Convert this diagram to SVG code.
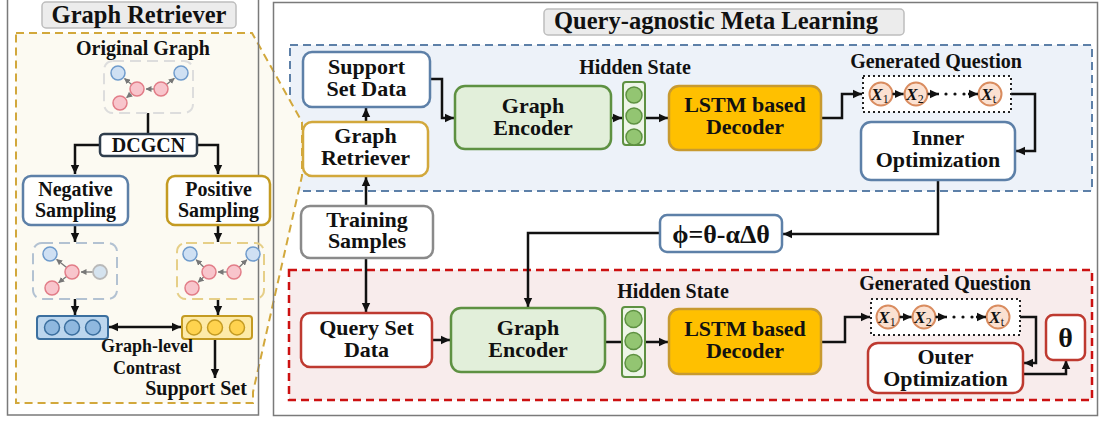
<svg xmlns="http://www.w3.org/2000/svg" width="1099" height="421" viewBox="0 0 1099 421">
  <defs>
    <marker id="arrow" markerUnits="userSpaceOnUse" markerWidth="10" markerHeight="10" refX="9" refY="5" orient="auto-start-reverse">
      <path d="M0,0.8 L9,5 L0,9.2 z" fill="#111"/>
    </marker>
    <marker id="arrowSmall" markerUnits="userSpaceOnUse" markerWidth="6" markerHeight="6" refX="5.5" refY="3" orient="auto">
      <path d="M0,0 L6,3 L0,6 z" fill="#777"/>
    </marker>
    <style>
      text { font-family: "Liberation Serif", "Times New Roman", serif; font-weight: bold; fill: #111; text-anchor: middle; }
      .panel { fill: none; stroke: #7a7a7a; stroke-width: 1.5; }
      .title { fill: #ececec; stroke: #bdbdbd; stroke-width: 1.5; }
      .t-title { font-size: 24.5px; }
      .t-node { font-size: 22px; }
      .t-left { font-size: 20px; }
      .t-label { font-size: 20px; }
      .box { fill: #fff; stroke-width: 2.5; }
      .blue { stroke: #5d80a8; }
      .gold { stroke: #d2a83c; }
      .gold2 { stroke: #c49b22; }
      .red { stroke: #be3a30; }
      .gray { stroke: #8a8a8a; }
      .dark { stroke: #2f3d4d; }
      .enc { fill: #e2efda; stroke: #5e9142; stroke-width: 2.5; }
      .dec { fill: #ffc000; stroke: #c89a30; stroke-width: 2.5; }
      .hid { fill: #eef5e8; stroke: #5e9142; stroke-width: 2; }
      .hidc { fill: #93c572; stroke: #5e9142; stroke-width: 1.5; }
      .tok { fill: #fbe1d1; stroke: #d98c5f; stroke-width: 2; }
      .qbox { fill: #fff; stroke: #222; stroke-width: 2; stroke-dasharray: 2 3; }
      .conn { fill: none; stroke: #111; stroke-width: 2.5; }
      .gconn { fill: none; stroke: #777; stroke-width: 1.3; marker-end: url(#arrowSmall); }
      .nb { fill: #cfe0f3; stroke: #6f9bcc; stroke-width: 1.5; }
      .np { fill: #f8c5cc; stroke: #e27d88; stroke-width: 1.5; }
      .ng { fill: #d5e3ef; stroke: #b9b9b9; stroke-width: 1.8; }
      .gbox { fill: none; stroke-width: 2; stroke-dasharray: 11 6; }
      .tx { font-size: 17.5px; font-style: italic; text-anchor: start; }
      .sub { font-size: 12px; font-style: normal; font-weight: normal; }
    </style>
  </defs>

  <!-- meta-learning regions -->
  <rect x="290" y="45" width="802" height="146" fill="#edf2f9" stroke="#5d80a8" stroke-width="2" stroke-dasharray="8 5"/>
  <rect x="289" y="270" width="803" height="130" fill="#f8ecec" stroke="#cc1111" stroke-width="2.5" stroke-dasharray="8 5"/>

  <!-- zoom-out of the graph retriever -->
  <polygon points="16,33 252,33 302,122 302,176 253,392 253,403 16,403" fill="#fcfaf2" stroke="#d2a83c" stroke-width="2" stroke-dasharray="8 5"/>

  <!-- panel frames -->
  <rect class="panel" x="7.5" y="-2" width="251" height="417"/>
  <rect class="panel" x="273.5" y="2.5" width="824" height="413"/>

  <!-- panel titles -->
  <g id="title-retriever">
    <rect class="title" x="42" y="2" width="194" height="26" rx="4"/>
    <text class="t-title" x="139" y="23">Graph Retriever</text>
  </g>
  <g id="title-meta">
    <rect class="title" x="544" y="9" width="360" height="26" rx="4"/>
    <text class="t-title" x="716" y="29">Query-agnostic Meta Learning</text>
  </g>

  <!-- connectors -->
  <g id="connectors">
    <!-- retriever panel -->
    <path class="conn" d="M148,113 V135"/>
    <path class="conn" d="M100,145 H75 V174" marker-end="url(#arrow)"/>
    <path class="conn" d="M197,145 H218 V174" marker-end="url(#arrow)"/>
    <path class="conn" d="M75,225 V242" marker-end="url(#arrow)"/>
    <path class="conn" d="M218,225 V242" marker-end="url(#arrow)"/>
    <path class="conn" d="M75,299 V315" marker-end="url(#arrow)"/>
    <path class="conn" d="M218,299 V315" marker-end="url(#arrow)"/>
    <path class="conn" d="M109,327 H181" marker-start="url(#arrow)" marker-end="url(#arrow)"/>
    <path class="conn" d="M215,339 V378" marker-end="url(#arrow)"/>
    <!-- support branch -->
    <path class="conn" d="M366,206 V177" marker-end="url(#arrow)"/>
    <path class="conn" d="M366,122 V108" marker-end="url(#arrow)"/>
    <path class="conn" d="M430,79 H442 V118 H454" marker-end="url(#arrow)"/>
    <path class="conn" d="M611,118 H622" marker-end="url(#arrow)"/>
    <path class="conn" d="M645,118 H668" marker-end="url(#arrow)"/>
    <path class="conn" d="M821,118 H842 V94 H862" marker-end="url(#arrow)"/>
    <path class="conn" d="M1011,94 H1035 V151 H1016" marker-end="url(#arrow)"/>
    <path class="conn" d="M938,180 V234 H783" marker-end="url(#arrow)"/>
    <path class="conn" d="M660,233 H528 V307" marker-end="url(#arrow)"/>
    <!-- query branch -->
    <path class="conn" d="M366,258 V312" marker-end="url(#arrow)"/>
    <path class="conn" d="M432,340 H450" marker-end="url(#arrow)"/>
    <path class="conn" d="M605,342 H622"/>
    <path class="conn" d="M645,342 H668" marker-end="url(#arrow)"/>
    <path class="conn" d="M821,342 H845 V317 H870" marker-end="url(#arrow)"/>
    <path class="conn" d="M1020,317 H1036 V363 H1024" marker-end="url(#arrow)"/>
    <path class="conn" d="M1023,374 H1066 V360" marker-end="url(#arrow)"/>
  </g>

  <!-- original graph -->
  <g id="original-graph">
    <text class="t-label" x="143" y="55">Original Graph</text>
    <rect class="gbox" x="104" y="61" width="89" height="52" rx="9" stroke="#dddddd"/>
    <path class="gconn" d="M154,89 H146"/>
    <path class="gconn" d="M131.6,84.5 L124.5,78.5"/>
    <path class="gconn" d="M166.5,84.6 L174.4,78.3"/>
    <path class="gconn" d="M131.6,93.5 L126.6,97.6"/>
    <circle class="nb" cx="118" cy="73" r="7"/>
    <circle class="nb" cx="181" cy="73" r="7"/>
    <circle class="np" cx="137" cy="89" r="7"/>
    <circle class="np" cx="161" cy="89" r="7"/>
    <circle class="np" cx="120" cy="103" r="7"/>
  </g>

  <g id="dcgcn">
    <rect class="box dark" x="100" y="134" width="97" height="22" rx="4"/>
    <text class="t-left" x="148.5" y="152">DCGCN</text>
  </g>

  <g id="negative-sampling">
    <rect class="box blue" x="23" y="176" width="105" height="49" rx="8"/>
    <text class="t-left" x="75.5" y="196">Negative<tspan x="75.5" dy="21">Sampling</tspan></text>
  </g>

  <g id="positive-sampling">
    <rect class="box gold2" x="167" y="176" width="103" height="49" rx="8"/>
    <text class="t-left" x="218.5" y="196">Positive<tspan x="218.5" dy="21">Sampling</tspan></text>
  </g>

  <g id="negative-graph">
    <rect class="gbox" x="33" y="243" width="84" height="56" rx="9" stroke="#b3c2d2"/>
    <path class="gconn" d="M93,272 H81"/>
    <path class="gconn" d="M66.6,267.6 L56.6,259.4"/>
    <path class="gconn" d="M66.5,276.4 L58.6,282.7"/>
    <circle class="nb" cx="50" cy="254" r="7"/>
    <circle class="np" cx="72" cy="272" r="7"/>
    <circle class="ng" cx="100" cy="272" r="7"/>
    <circle class="np" cx="52" cy="288" r="7"/>
  </g>

  <g id="positive-graph">
    <rect class="gbox" x="177" y="243" width="87" height="56" rx="9" stroke="#e6cf88"/>
    <path class="gconn" d="M227,272 H218"/>
    <path class="gconn" d="M203.9,267.2 L196.2,259.8"/>
    <path class="gconn" d="M239.1,267.2 L246.8,259.8"/>
    <path class="gconn" d="M203.9,276.8 L198.2,282.2"/>
    <circle class="nb" cx="190" cy="254" r="7"/>
    <circle class="nb" cx="253" cy="254" r="7"/>
    <circle class="np" cx="209" cy="272" r="7"/>
    <circle class="np" cx="234" cy="272" r="7"/>
    <circle class="np" cx="192" cy="288" r="7"/>
  </g>

  <g id="negative-embedding">
    <rect x="37" y="316" width="71" height="23" rx="3" fill="#bcd6ee" stroke="#3b6f9f" stroke-width="2"/>
    <circle cx="52" cy="327.5" r="7.5" fill="#8fb8df" stroke="#3b6f9f" stroke-width="1.5"/>
    <circle cx="72" cy="327.5" r="7.5" fill="#8fb8df" stroke="#3b6f9f" stroke-width="1.5"/>
    <circle cx="93" cy="327.5" r="7.5" fill="#8fb8df" stroke="#3b6f9f" stroke-width="1.5"/>
  </g>

  <g id="positive-embedding">
    <rect x="182" y="316" width="70" height="23" rx="3" fill="#fdeaa8" stroke="#c49b22" stroke-width="2"/>
    <circle cx="194" cy="327.5" r="7.5" fill="#ffd34f" stroke="#c49b22" stroke-width="1.5"/>
    <circle cx="215" cy="327.5" r="7.5" fill="#ffd34f" stroke="#c49b22" stroke-width="1.5"/>
    <circle cx="237" cy="327.5" r="7.5" fill="#ffd34f" stroke="#c49b22" stroke-width="1.5"/>
  </g>

  <g id="contrast-label">
    <text x="147" y="352" font-size="18">Graph-level<tspan x="147" dy="22">Contrast</tspan></text>
  </g>
  <text id="support-set-label" class="t-left" x="196" y="395">Support Set</text>

  <!-- support (inner) loop -->
  <g id="support-set-data">
    <rect class="box blue" x="303" y="52" width="127" height="55" rx="9"/>
    <text class="t-node" x="366.5" y="74">Support<tspan x="366.5" dy="22">Set Data</tspan></text>
  </g>

  <g id="graph-retriever">
    <rect class="box gold" x="303" y="122" width="125" height="54" rx="9"/>
    <text class="t-node" x="365.5" y="143">Graph<tspan x="365.5" dy="22">Retriever</tspan></text>
  </g>

  <g id="training-samples">
    <rect class="box gray" x="301" y="206" width="132" height="52" rx="9"/>
    <text class="t-node" x="367" y="227">Training<tspan x="367" dy="21">Samples</tspan></text>
  </g>

  <g id="graph-encoder-support">
    <rect class="enc" x="455" y="86" width="156" height="63" rx="10"/>
    <text class="t-node" x="533" y="113">Graph<tspan x="533" dy="22">Encoder</tspan></text>
  </g>

  <g id="hidden-state-support">
    <text class="t-label" x="635" y="74">Hidden State</text>
    <rect class="hid" x="623" y="82" width="22" height="63" rx="3"/>
    <circle class="hidc" cx="634" cy="95" r="8"/>
    <circle class="hidc" cx="634" cy="116" r="8"/>
    <circle class="hidc" cx="634" cy="137" r="8"/>
  </g>

  <g id="lstm-decoder-support">
    <rect class="dec" x="669" y="86" width="152" height="64" rx="10"/>
    <text class="t-node" x="745" y="112">LSTM based<tspan x="745" dy="22">Decoder</tspan></text>
  </g>

  <g id="generated-question-support">
    <text class="t-label" x="936" y="68">Generated Question</text>
    <rect class="qbox" x="863" y="76" width="148" height="36"/>
    <circle class="tok" cx="881" cy="94" r="11.5"/>
    <circle class="tok" cx="916" cy="94" r="11.5"/>
    <circle class="tok" cx="990" cy="94" r="11.5"/>
    <text class="tx" x="871" y="100">X<tspan class="sub" dy="3">1</tspan></text>
    <text class="tx" x="906" y="100">X<tspan class="sub" dy="3">2</tspan></text>
    <text class="tx" x="981" y="100">X<tspan class="sub" dy="3">t</tspan></text>
    <path class="conn" stroke-width="2" d="M892.5,94 H903.5" marker-end="url(#arrow)"/>
    <path class="conn" stroke-width="2" d="M927.5,94 H939" marker-end="url(#arrow)"/>
    <circle cx="946" cy="94" r="1.6" fill="#111"/>
    <circle cx="955" cy="94" r="1.6" fill="#111"/>
    <circle cx="964" cy="94" r="1.6" fill="#111"/>
    <path class="conn" stroke-width="2" d="M968,94 H978" marker-end="url(#arrow)"/>
  </g>

  <g id="inner-optimization">
    <rect class="box blue" x="861" y="122" width="154" height="58" rx="10"/>
    <text class="t-node" x="938" y="145">Inner<tspan x="938" dy="22">Optimization</tspan></text>
  </g>

  <g id="phi-update">
    <rect class="box blue" x="660" y="215" width="122" height="37" rx="7"/>
    <text x="721" y="243" font-size="26">ϕ=θ-αΔθ</text>
  </g>

  <!-- query (outer) loop -->
  <g id="query-set-data">
    <rect class="box red" x="301" y="313" width="131" height="54" rx="9"/>
    <text class="t-node" x="366.5" y="335">Query Set<tspan x="366.5" dy="22">Data</tspan></text>
  </g>

  <g id="graph-encoder-query">
    <rect class="enc" x="451" y="308" width="154" height="64" rx="10"/>
    <text class="t-node" x="528" y="335">Graph<tspan x="528" dy="22">Encoder</tspan></text>
  </g>

  <g id="hidden-state-query">
    <text class="t-label" x="673" y="298">Hidden State</text>
    <rect class="hid" x="622" y="307" width="23" height="70" rx="3"/>
    <circle class="hidc" cx="633.5" cy="319" r="8.5"/>
    <circle class="hidc" cx="633.5" cy="341" r="8.5"/>
    <circle class="hidc" cx="633.5" cy="363" r="8.5"/>
  </g>

  <g id="lstm-decoder-query">
    <rect class="dec" x="669" y="309" width="152" height="65" rx="10"/>
    <text class="t-node" x="745" y="336">LSTM based<tspan x="745" dy="22">Decoder</tspan></text>
  </g>

  <g id="generated-question-query">
    <text class="t-label" x="945" y="290">Generated Question</text>
    <rect class="qbox" x="871" y="299" width="149" height="36"/>
    <circle class="tok" cx="888" cy="317" r="11.5"/>
    <circle class="tok" cx="924" cy="317" r="11.5"/>
    <circle class="tok" cx="998" cy="317" r="11.5"/>
    <text class="tx" x="878" y="323">X<tspan class="sub" dy="3">1</tspan></text>
    <text class="tx" x="914" y="323">X<tspan class="sub" dy="3">2</tspan></text>
    <text class="tx" x="989" y="323">X<tspan class="sub" dy="3">t</tspan></text>
    <path class="conn" stroke-width="2" d="M899.5,317 H911.5" marker-end="url(#arrow)"/>
    <path class="conn" stroke-width="2" d="M935.5,317 H947" marker-end="url(#arrow)"/>
    <circle cx="954" cy="317" r="1.6" fill="#111"/>
    <circle cx="963" cy="317" r="1.6" fill="#111"/>
    <circle cx="972" cy="317" r="1.6" fill="#111"/>
    <path class="conn" stroke-width="2" d="M976,317 H986" marker-end="url(#arrow)"/>
  </g>

  <g id="outer-optimization">
    <rect class="box red" x="868" y="343" width="155" height="50" rx="10"/>
    <text class="t-node" x="945.5" y="364">Outer<tspan x="945.5" dy="22">Optimization</tspan></text>
  </g>

  <g id="theta">
    <rect class="box red" x="1046" y="315" width="39" height="45" rx="7"/>
    <text x="1065.5" y="347" font-size="28">θ</text>
  </g>
</svg>
